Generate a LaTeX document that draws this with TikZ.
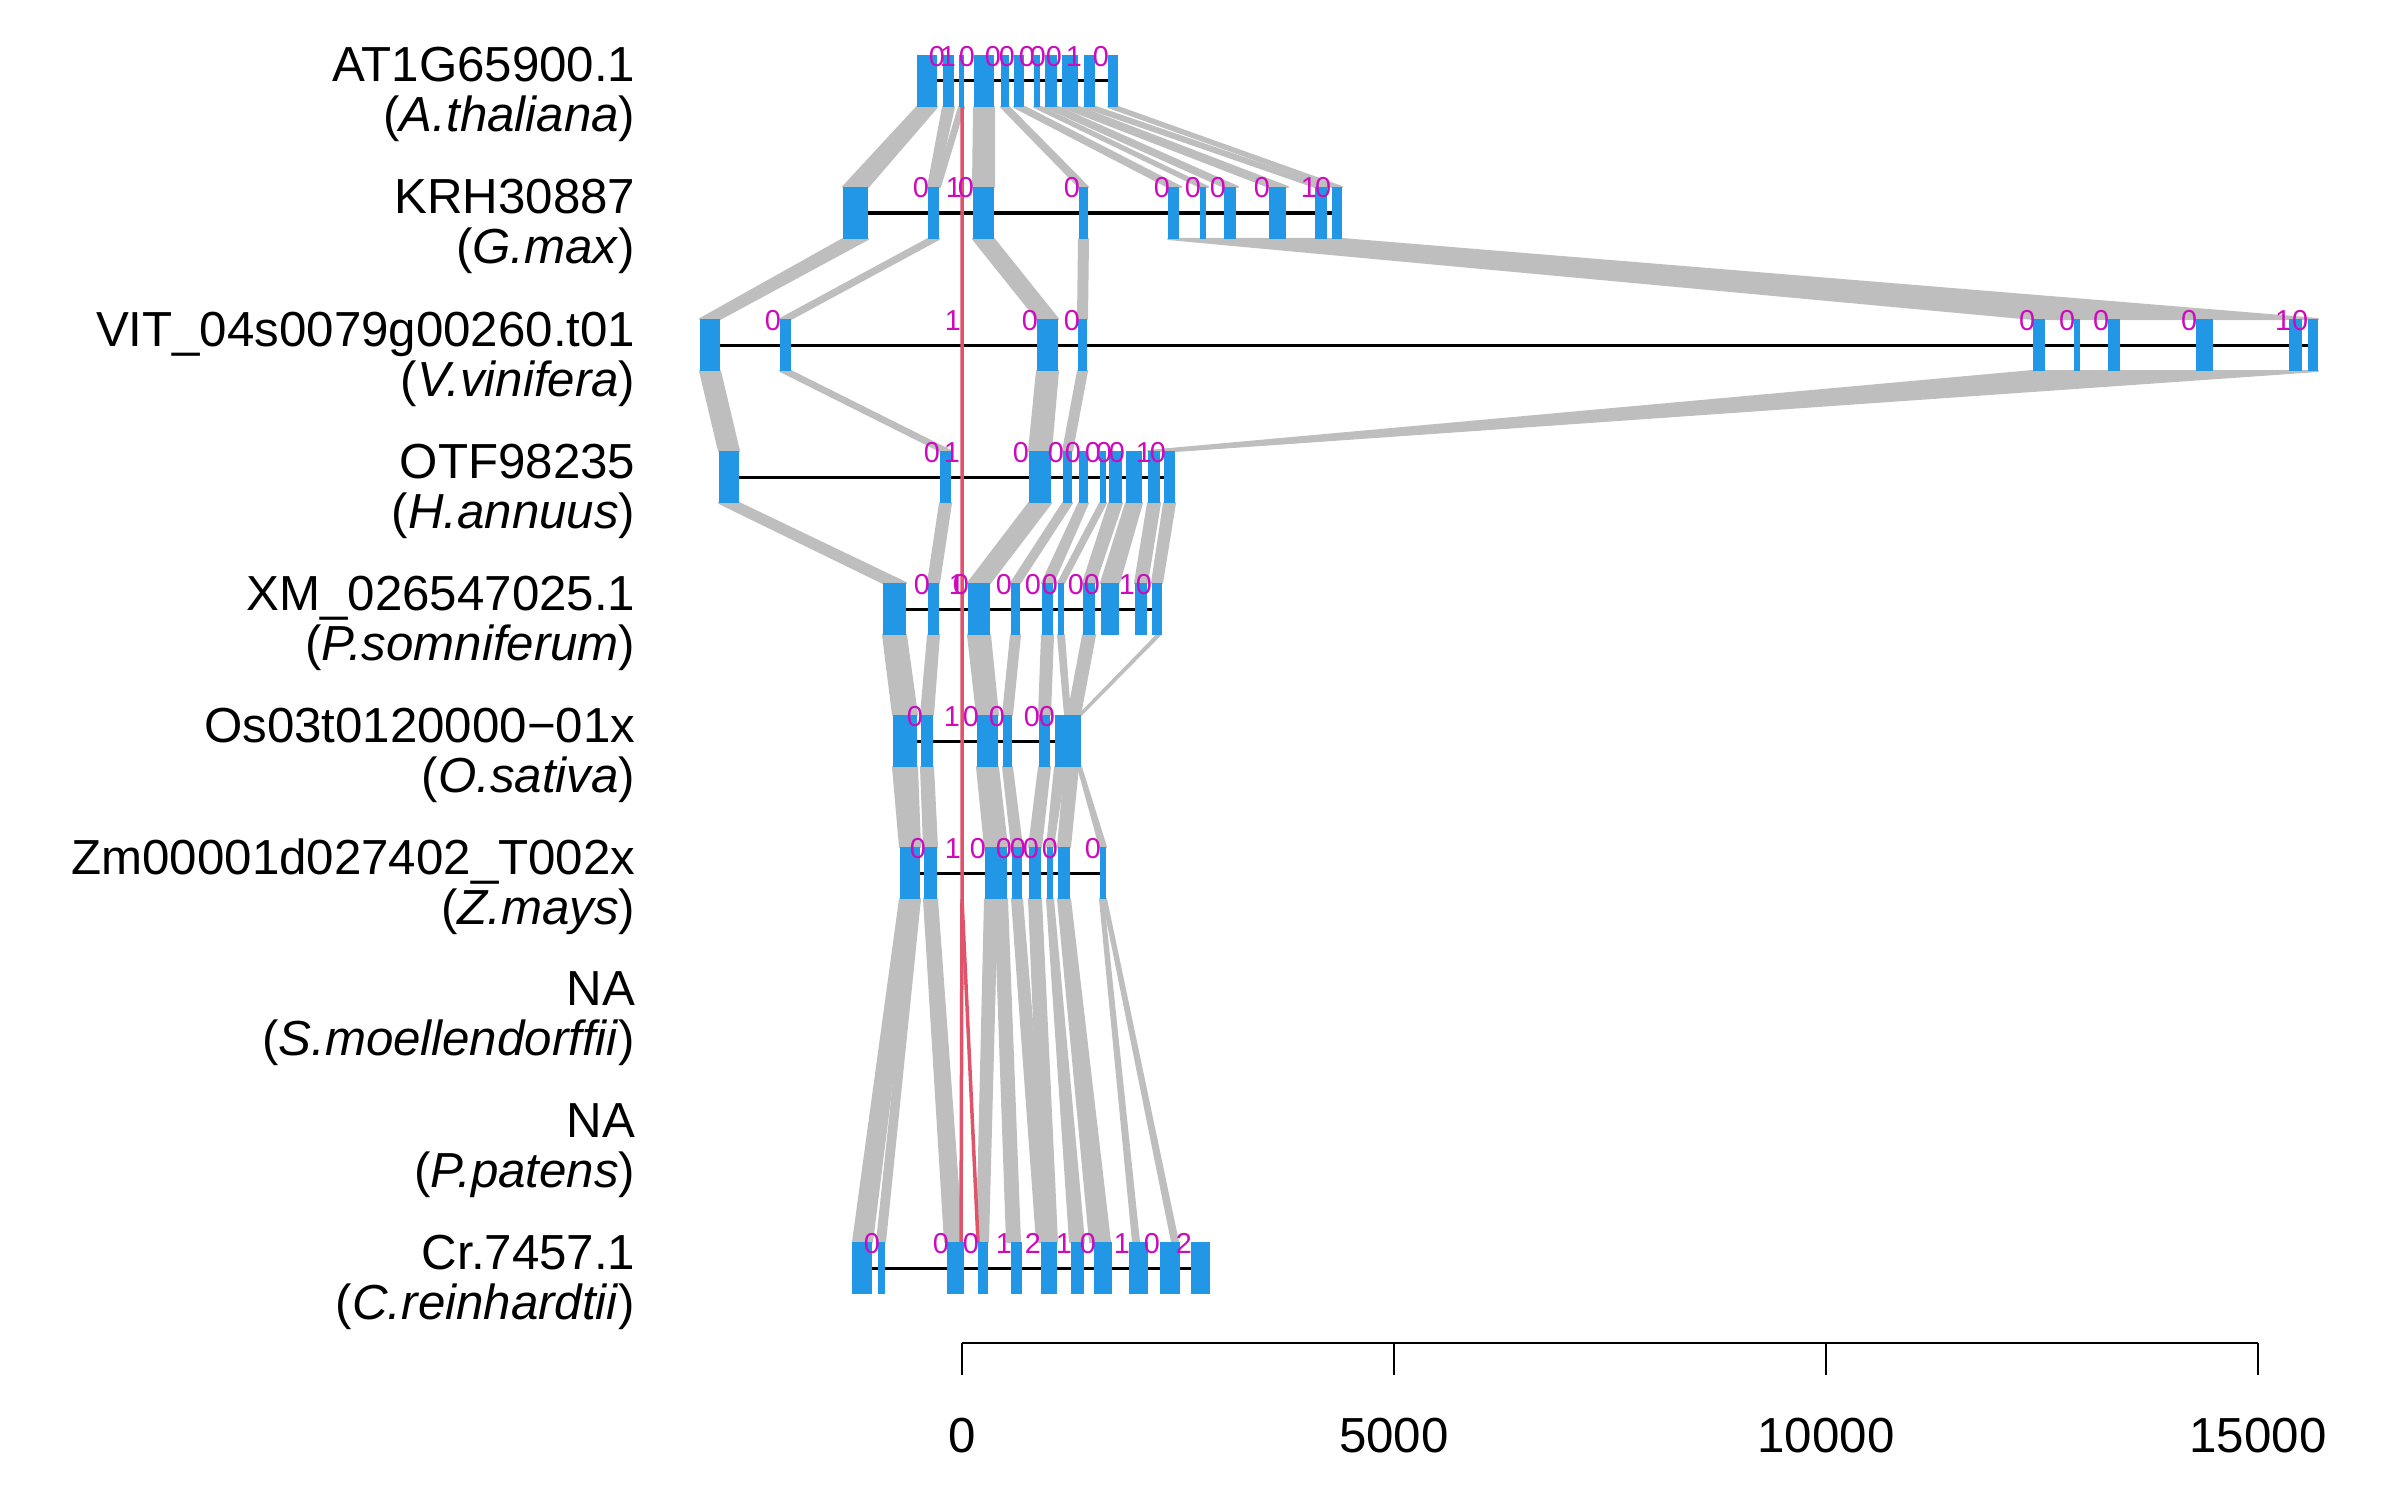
\documentclass[tikz,border=0pt]{standalone}
\usepackage{fontspec}
\setmainfont{Liberation Sans}
\definecolor{exonblue}{HTML}{2297E6}
\definecolor{phasemag}{HTML}{CD0BBC}
\definecolor{hitred}{HTML}{DF536B}
\definecolor{linkgrey}{HTML}{BEBEBE}
\tikzset{
  exon/.style={fill=exonblue},
  intron/.style={line width=0.03cm},
  exlink/.style={fill=linkgrey, draw=linkgrey, line width=0.02cm, line join=round},
  hit/.style={draw=hitred, line width=0.035cm},
  phase/.style={anchor=base, inner sep=0pt, text=phasemag, font=\fontsize{8.2}{9}\selectfont},
  gname/.style={anchor=base east, inner sep=0pt, font=\fontsize{14}{16}\selectfont},
  axtick/.style={line width=0.025cm}
}
\begin{document}
\begin{tikzpicture}[x=0.01cm, y=-0.01cm]
  \useasboundingbox (0,0) rectangle (2400,1500);

  % links between neighbouring genes
  \foreach \a/\b/\c/\d in {917/937/843/868, 943/954/928/936, 959/964/935/940, 974/994/973/994,
      1001/1009/1079/1088, 1014/1025/1168/1181, 1034/1041/1200/1208, 1045/1058/1224/1238,
      1062/1079/1269/1288, 1084/1096/1315/1328, 1108/1118/1332/1342}
    \filldraw[exlink] (\a,107) -- (\b,107) -- (\d,187) -- (\c,187) -- cycle;
  \foreach \a/\b/\c/\d in {843/868/700/720, 928/939/780/791, 973/994/1037/1058, 1079/1088/1078/1087,
      1168/1197/2033/2071, 1200/1221/2074/2105, 1224/1266/2108/2193, 1269/1312/2196/2286,
      1315/1329/2289/2305, 1332/1342/2308/2318}
    \filldraw[exlink] (\a,239) -- (\b,239) -- (\d,319) -- (\c,319) -- cycle;
  \foreach \a/\b/\c/\d in {700/720/719/739, 780/791/940/951, 1037/1058/1029/1051, 1078/1087/1063/1072,
      2033/2071/1148/1151, 2074/2105/1152/1155, 2108/2193/1156/1159, 2196/2286/1160/1164,
      2289/2305/1165/1169, 2308/2318/1170/1175}
    \filldraw[exlink] (\a,371) -- (\b,371) -- (\d,451) -- (\c,451) -- cycle;
  \foreach \a/\b/\c/\d in {719/739/883/906, 940/951/928/939, 1029/1051/968/990, 1063/1072/1011/1020,
      1079/1088/1042/1053, 1100/1106/1058/1064, 1109/1122/1083/1095, 1126/1142/1101/1119,
      1148/1160/1135/1147, 1164/1175/1152/1162}
    \filldraw[exlink] (\a,503) -- (\b,503) -- (\d,583) -- (\c,583) -- cycle;
  \foreach \a/\b/\c/\d in {883/906/893/917, 928/939/921/933, 968/990/977/998, 1011/1020/1003/1012,
      1042/1053/1039/1050, 1058/1064/1065/1070, 1083/1095/1068/1080, 1157/1160/1079/1081}
    \filldraw[exlink] (\a,635) -- (\b,635) -- (\d,715) -- (\c,715) -- cycle;
  \foreach \a/\b/\c/\d in {893/917/900/920, 921/933/924/937, 977/998/985/1007, 1003/1012/1012/1022,
      1039/1050/1029/1041, 1055/1065/1047/1053, 1065/1078/1058/1070, 1078/1081/1100/1106}
    \filldraw[exlink] (\a,767) -- (\b,767) -- (\d,847) -- (\c,847) -- cycle;
  \foreach \a/\b/\c/\d in {900/915/853/872, 913/920/877/885, 924/937/945/962, 985/997/977/988,
      995/1007/1007/1020, 1012/1022/1037/1050, 1029/1041/1043/1057, 1047/1053/1070/1084,
      1058/1070/1090/1110, 1100/1103/1133/1139, 1103/1106/1172/1178}
    \filldraw[exlink] (\a,899) -- (\b,899) -- (\d,1242) -- (\c,1242) -- cycle;

  % introns
  \draw[intron] (917,81) -- (1118,81);
  \draw[intron] (843,213) -- (1342,213);
  \draw[intron] (700,345) -- (2318,345);
  \draw[intron] (719,477) -- (1175,477);
  \draw[intron] (883,609) -- (1162,609);
  \draw[intron] (893,741) -- (1081,741);
  \draw[intron] (900,873) -- (1106,873);
  \draw[intron] (852,1268) -- (1210,1268);

  % position 0
  \draw[hit] (978,1242) -- (962,899) -- (962,107);
  \draw[hit] (962,899) -- (961,1242);

  % exons
  \foreach \a/\b in {917/937, 943/954, 959/964, 974/994, 1001/1009, 1014/1024, 1034/1040,
      1045/1057, 1062/1078, 1084/1095, 1108/1118}
    \fill[exon] (\a,55) rectangle (\b,107);
  \foreach \a/\b in {843/868, 928/939, 973/994, 1079/1088, 1168/1179, 1200/1206, 1224/1236,
      1269/1286, 1315/1327, 1332/1342}
    \fill[exon] (\a,187) rectangle (\b,239);
  \foreach \a/\b in {700/720, 780/791, 1037/1058, 1078/1087, 2033/2045, 2074/2080, 2108/2120,
      2196/2213, 2289/2302, 2308/2318}
    \fill[exon] (\a,319) rectangle (\b,371);
  \foreach \a/\b in {719/739, 940/951, 1029/1051, 1063/1072, 1079/1088, 1100/1106, 1109/1122,
      1126/1142, 1148/1160, 1164/1175}
    \fill[exon] (\a,451) rectangle (\b,503);
  \foreach \a/\b in {883/906, 928/939, 968/990, 1011/1020, 1042/1053, 1058/1064, 1083/1095,
      1101/1119, 1135/1147, 1152/1162}
    \fill[exon] (\a,583) rectangle (\b,635);
  \foreach \a/\b in {893/917, 921/933, 977/998, 1003/1012, 1039/1050, 1055/1081}
    \fill[exon] (\a,715) rectangle (\b,767);
  \foreach \a/\b in {900/920, 924/937, 985/1007, 1012/1022, 1029/1041, 1047/1053, 1058/1070, 1100/1106}
    \fill[exon] (\a,847) rectangle (\b,899);
  \foreach \a/\b in {852/872, 878/885, 947/964, 978/988, 1011/1022, 1041/1057, 1071/1084,
      1094/1112, 1129/1148, 1160/1180, 1191/1210}
    \fill[exon] (\a,1242) rectangle (\b,1294);

  % intron phases
  \foreach \x/\t [count=\i] in {937/0, 948/1, 967/0, 993/0, 1007/0, 1027/0, 1038/0, 1054/0, 1074/1, 1101/0}
    \node[phase] (ph1-\i) at (\x,67) {\t};
  \foreach \x/\t [count=\i] in {921/0, 954/1, 966/0, 1072/0, 1162/0, 1193/0, 1218/0, 1262/0, 1309/1, 1323/0}
    \node[phase] (ph2-\i) at (\x,198) {\t};
  \foreach \x/\t [count=\i] in {773/0, 953/1, 1030/0, 1072/0, 2027/0, 2067/0, 2101/0, 2189/0, 2283/1, 2300/0}
    \node[phase] (ph3-\i) at (\x,330) {\t};
  \foreach \x/\t [count=\i] in {932/0, 952/1, 1021/0, 1056/0, 1073/0, 1093/0, 1104/0, 1117/0, 1144/1, 1158/0}
    \node[phase] (ph4-\i) at (\x,462) {\t};
  \foreach \x/\t [count=\i] in {922/0, 957/1, 961/0, 1004/0, 1033/0, 1050/0, 1076/0, 1092/0, 1127/1, 1144/0}
    \node[phase] (ph5-\i) at (\x,594) {\t};
  \foreach \x/\t [count=\i] in {915/0, 952/1, 971/0, 997/0, 1032/0, 1047/0}
    \node[phase] (ph6-\i) at (\x,726) {\t};
  \foreach \x/\t [count=\i] in {918/0, 953/1, 978/0, 1004/0, 1018/0, 1031/0, 1050/0, 1093/0}
    \node[phase] (ph7-\i) at (\x,858) {\t};
  \foreach \x/\t [count=\i] in {872/0, 941/0, 971/0, 1004/1, 1033/2, 1064/1, 1088/0, 1122/1, 1152/0, 1184/2}
    \node[phase] (ph10-\i) at (\x,1253) {\t};

  % gene names
  \foreach \r/\g/\s [count=\i] in {81/AT1G65900.1/A.thaliana, 213/KRH30887/G.max,
      345/VIT\_04s0079g00260.t01/V.vinifera, 477/OTF98235/H.annuus,
      609/XM\_026547025.1/P.somniferum, 741/Os03t0120000−01x/O.sativa,
      873/Zm00001d027402\_T002x/Z.mays, 1004/NA/S.moellendorffii,
      1136/NA/P.patens, 1268/Cr.7457.1/C.reinhardtii}
  {
    \node[gname] (gene\i) at (636,\r+1) {\g};
    \node[gname] (spec\i) at (636,\r+51) {(\textit{\s})};
  }

  % axis
  \draw[axtick] (962,1343) -- (2258,1343);
  \foreach \v [count=\i] in {0,5000,10000,15000}
  {
    \draw[axtick] (962+\v*0.0864,1343) -- (962+\v*0.0864,1375);
    \node[gname, anchor=base] (tick\i) at (962+\v*0.0864,1452) {\v};
  }
\end{tikzpicture}
\end{document}
